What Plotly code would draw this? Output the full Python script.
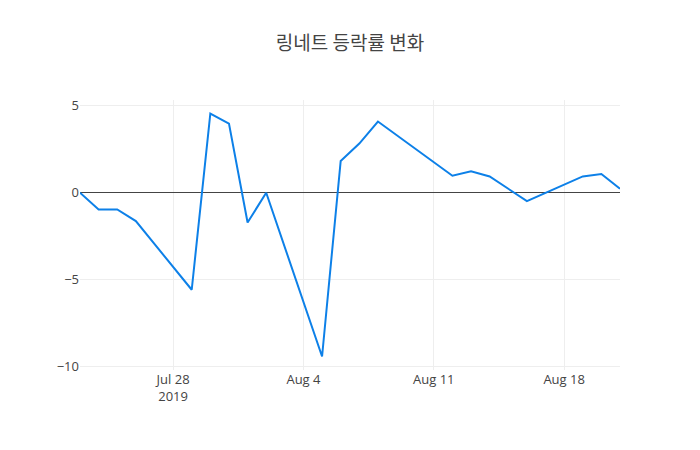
import plotly.graph_objects as go

dates = ["2019-07-23", "2019-07-24", "2019-07-25", "2019-07-26", "2019-07-29",
         "2019-07-30", "2019-07-31", "2019-08-01", "2019-08-02", "2019-08-05",
         "2019-08-06", "2019-08-07", "2019-08-08", "2019-08-12", "2019-08-13",
         "2019-08-14", "2019-08-16", "2019-08-19", "2019-08-20", "2019-08-21"]
change_pct = [0.0, -0.96, -0.96, -1.63, -5.58,
              4.56, 3.98, -1.71, 0.0, -9.42,
              1.83, 2.83, 4.10, 0.98, 1.23,
              0.94, -0.48, 0.94, 1.08, 0.23]

title_text = "링네트 등락률 변화"

fig = go.Figure()
fig.add_trace(go.Scatter(x=dates, y=change_pct, mode="lines",
                         line=dict(color="#0d80e8", width=2)))

fig.update_layout(
    title=dict(text=title_text, x=0.5, xanchor="center",
               font=dict(size=19, color="#444",
                         family="Noto Sans CJK KR, sans-serif")),
    width=700, height=450,
    margin=dict(l=80, r=80, t=100, b=80),
    plot_bgcolor="white", paper_bgcolor="white",
    font=dict(family="Open Sans, Noto Sans CJK KR, sans-serif", color="#444", size=13),
    showlegend=False,
    xaxis=dict(showgrid=True, gridcolor="#eeeeee", zeroline=False,
               showline=False, ticks=""),
    yaxis=dict(showgrid=True, gridcolor="#eeeeee", zeroline=True,
               zerolinecolor="#444", zerolinewidth=1, showline=False,
               tickvals=[-10, -5, 0, 5], ticktext=["−10", "−5", "0", "5"]),
)

fig.write_html("out.html", config={"displayModeBar": False},
               post_script="document.body.style.margin='0';")
